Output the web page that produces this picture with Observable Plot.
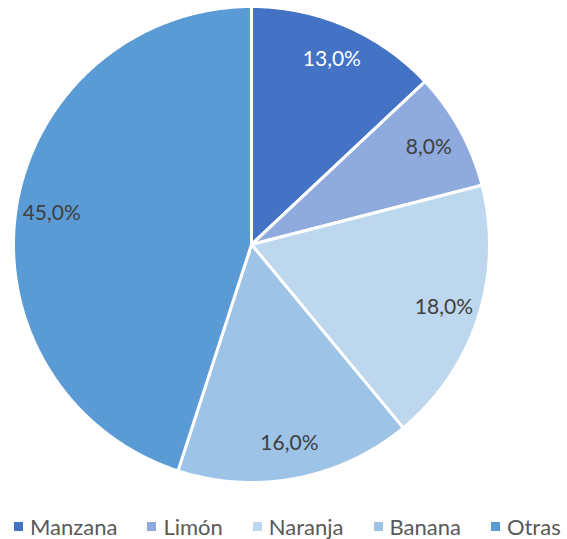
<!DOCTYPE html>
<html>
<head>
<meta charset="utf-8">
<script src="https://cdn.jsdelivr.net/npm/d3@7"></script>
<script src="https://cdn.jsdelivr.net/npm/@observablehq/plot@0.6"></script>
<style>
  html, body { margin: 0; padding: 0; background: #fff; }
  body { position: relative; width: 567px; height: 539px; overflow: hidden; font-family: Lato, "Open Sans", sans-serif; }
  #chart svg { display: block; }
  #legend { position: absolute; left: 14px; top: 516px; display: flex; align-items: center; font-size: 22px; line-height: 22px; color: #595959; white-space: nowrap; }
  #legend .item { display: flex; align-items: center; margin-right: 30px; }
  #legend .sw { width: 9px; height: 9px; margin-right: 7px; margin-top: -1px; }
</style>
</head>
<body>
<div id="chart"></div>
<div id="legend"></div>
<script>
const categorias = ["Manzana", "Limón", "Naranja", "Banana", "Otras"];
const valores = [13, 8, 18, 16, 45];
const etiquetas = ["13,0%", "8,0%", "18,0%", "16,0%", "45,0%"];
const colores = ["#4472C4", "#8FAADC", "#BDD7EE", "#9DC3E6", "#5B9BD5"];
const coloresTexto = ["#ffffff", "#404040", "#404040", "#404040", "#404040"];

const arcs = d3.pie().sort(null).value(d => d)(valores);

// polygon vertices of each slice (unit circle, angle clockwise from 12 o'clock)
const puntos = [];
arcs.forEach((a, i) => {
  const n = Math.max(2, Math.ceil((a.endAngle - a.startAngle) / 0.01));
  puntos.push({cat: categorias[i], color: colores[i], x: 0, y: 0});
  for (let k = 0; k <= n; k++) {
    const t = a.startAngle + (a.endAngle - a.startAngle) * k / n;
    puntos.push({cat: categorias[i], color: colores[i], x: Math.sin(t), y: Math.cos(t)});
  }
  puntos.push({cat: categorias[i], color: colores[i], x: 0, y: 0});
});

const etiquetasData = arcs.map((a, i) => {
  const m = (a.startAngle + a.endAngle) / 2;
  const rr = 0.85;
  return {text: etiquetas[i], color: coloresTexto[i], x: rr * Math.sin(m), y: rr * Math.cos(m)};
});

const cx = 251, cy = 244, r = 238;
const W = 567, H = 500;

const chart = Plot.plot({
  width: W,
  height: H,
  marginLeft: cx - r,
  marginRight: W - (cx + r),
  marginTop: cy - r,
  marginBottom: H - (cy + r),
  x: {domain: [-1, 1], axis: null},
  y: {domain: [-1, 1], axis: null},
  color: {type: "identity"},
  style: {fontFamily: "Lato, 'Open Sans', sans-serif", background: "white"},
  marks: [
    Plot.line(puntos, {x: "x", y: "y", z: "cat", fill: "color", stroke: "white", strokeWidth: 3, strokeLinejoin: "round", curve: "linear"}),
    Plot.text(etiquetasData, {x: "x", y: "y", text: "text", fill: "color", fontSize: 21})
  ]
});
document.getElementById("chart").appendChild(chart);

const legend = document.getElementById("legend");
categorias.forEach((c, i) => {
  const item = document.createElement("div");
  item.className = "item";
  const sw = document.createElement("span");
  sw.className = "sw";
  sw.style.background = colores[i];
  const lab = document.createElement("span");
  lab.textContent = c;
  item.appendChild(sw);
  item.appendChild(lab);
  legend.appendChild(item);
});
</script>
</body>
</html>
